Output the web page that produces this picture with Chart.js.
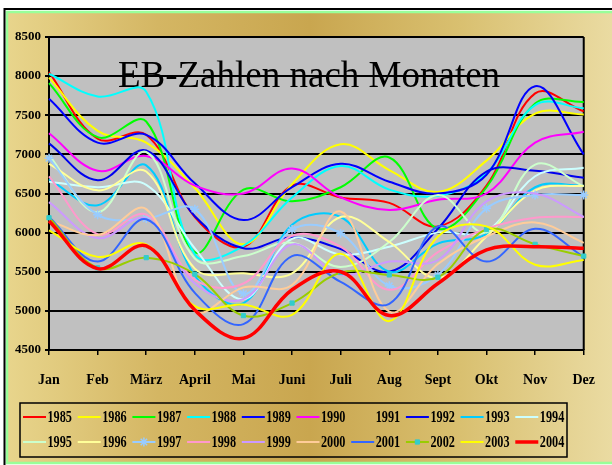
<!DOCTYPE html>
<html>
<head>
<meta charset="utf-8">
<script src="https://cdn.jsdelivr.net/npm/chart.js@4/dist/chart.umd.min.js"></script>
<style>
  html, body { margin: 0; padding: 0; background: #fff; }
</style>
</head>
<body>
<canvas id="chart" width="612" height="465"></canvas>
<script>
// Daten
const months = ["Jan", "Feb", "März", "April", "Mai", "Juni", "Juli", "Aug", "Sept", "Okt", "Nov", "Dez"];
const yTicks = [4500, 5000, 5500, 6000, 6500, 7000, 7500, 8000, 8500];

const y1985 = [8050, 7200, 7250, 6200, 5820, 6600, 6450, 6380, 6080, 6600, 7780, 7550];
const y1986 = [7980, 7300, 7150, 6570, 5850, 6620, 7130, 6800, 6520, 6920, 7520, 7510];
const y1987 = [7910, 7220, 7420, 5750, 6550, 6400, 6580, 6960, 6050, 6580, 7650, 7670];
const y1988 = [8030, 7740, 7800, 5720, 5830, 6450, 6850, 6550, 6470, 6760, 7630, 7590];
const y1989 = [7710, 7150, 7250, 6630, 6160, 6580, 6880, 6650, 6500, 6740, 7870, 7000];
const y1990 = [7270, 6790, 6980, 6600, 6500, 6820, 6450, 6290, 6420, 6500, 7150, 7290];
const y1991 = [null, null, null, null, null, null, null, null, null, null, null, null];
const y1992 = [7140, 6670, 7050, 6210, 5800, 5940, 5790, 5500, 6050, 6780, 6790, 6700];
const y1993 = [6680, 6350, 6860, 5450, 5100, 6100, 6200, 5500, 5860, 5980, 6580, 6600];
const y1994 = [6650, 6580, 6610, 5800, 5150, 5920, 5720, 5820, 6000, 6020, 6720, 6830];
const y1995 = [6990, 6260, 7030, 5670, 5700, 5870, 5560, 5880, 6480, 6000, 6870, 6590];
const y1996 = [6880, 6540, 6780, 5540, 5480, 5480, 6200, 5880, 5420, 5950, 6540, 6600];
const y1997 = [6950, 6230, 6180, 6300, 5220, 6040, 5990, 5320, 5460, 6310, 6480, 6480];
const y1998 = [6720, 5980, 6230, 5400, 5350, 5960, 5820, 5270, 5750, 6050, 6190, 6200];
const y1999 = [6390, 5930, 6180, 5350, 5150, 5850, 5460, 5630, 5650, 6400, 6500, 6200];
const y2000 = [6150, 5970, 6300, 5000, 5300, 5330, 6270, 4990, 5600, 5950, 6130, 5870];
const y2001 = [6200, 5630, 6170, 5230, 4830, 5700, 5370, 5090, 6080, 5630, 6050, 5690];
const y2002 = [6190, 5550, 5680, 5470, 4940, 5100, 5490, 5460, 5430, 6040, 5850, 5700];
const y2003 = [6030, 5690, 5850, 5060, 5080, 4950, 5730, 4870, 5950, 6080, 5590, 5650];
const y2004 = [6150, 5540, 5830, 5010, 4650, 5270, 5500, 4940, 5350, 5780, 5820, 5800];

const years = ["1985", "1986", "1987", "1988", "1989", "1990", "1991", "1992", "1993", "1994",
               "1995", "1996", "1997", "1998", "1999", "2000", "2001", "2002", "2003", "2004"];
const series = [y1985, y1986, y1987, y1988, y1989, y1990, y1991, y1992, y1993, y1994,
                y1995, y1996, y1997, y1998, y1999, y2000, y2001, y2002, y2003, y2004];
const colors = ["#ff0000", "#ffff00", "#00ff00", "#00ffff", "#0000ff", "#ff00ff", "rgba(0,0,0,0)", "#0000ee", "#00ccff", "#ccffff",
                "#ccffcc", "#ffff99", "#99ccff", "#ff99cc", "#cc99ff", "#ffcc99", "#3366ff", "#99cc00", "#ffff00", "#ff0000"];

const datasets = years.map((y, i) => {
  const d = {
    label: y,
    data: series[i],
    borderColor: colors[i],
    backgroundColor: colors[i],
    borderWidth: i === 19 ? 3.5 : 2,
    pointRadius: 0,
    tension: 0.38,
    fill: false,
    order: 20 - i
  };
  if (y === "1997") {
    d.pointStyle = "star"; d.pointRadius = 4.5; d.pointBorderWidth = 1.5;
    d.pointBorderColor = "#99ccff";
  }
  if (y === "2002") {
    d.pointStyle = "rect"; d.pointRadius = 3; d.pointBorderWidth = 1;
    d.pointBackgroundColor = "#33cccc"; d.pointBorderColor = "#33cccc";
  }
  return d;
});

// Hintergrund, Rahmen, Titel, Legende
const deko = {
  id: "deko",
  beforeDraw(chart) {
    const c = chart.ctx, a = chart.chartArea;
    c.save();
    c.fillStyle = "#fff";
    c.fillRect(0, 0, 612, 465);
    const g = c.createLinearGradient(7, 0, 612, 0);
    g.addColorStop(0, "#e8d58c");
    g.addColorStop(0.25, "#d4b663");
    g.addColorStop(0.5, "#c9a64f");
    g.addColorStop(0.75, "#d9c070");
    g.addColorStop(1, "#eadba2");
    c.fillStyle = g;
    c.fillRect(7, 12, 605, 450);
    c.strokeStyle = "#99ff99";
    c.lineWidth = 2.5;
    c.beginPath();
    c.moveTo(612, 12); c.lineTo(7, 12); c.lineTo(7, 463); c.lineTo(612, 463);
    c.stroke();
    c.strokeStyle = "#000";
    c.lineWidth = 2;
    c.beginPath();
    c.moveTo(612, 9); c.lineTo(4.5, 9); c.lineTo(4.5, 465);
    c.stroke();
    c.fillStyle = "#c0c0c0";
    c.fillRect(a.left, a.top, a.right - a.left, a.bottom - a.top);
    c.restore();
  },
  beforeDatasetsDraw(chart) {
    const c = chart.ctx, a = chart.chartArea;
    c.save();
    c.strokeStyle = "#000";
    c.lineWidth = 2;
    c.beginPath();
    c.moveTo(a.right, a.top); c.lineTo(a.right, a.bottom);
    c.stroke();
    c.fillStyle = "#000";
    c.font = '37px "Liberation Serif", "Times New Roman", serif';
    c.textAlign = "center";
    c.textBaseline = "alphabetic";
    c.fillText("EB-Zahlen nach Monaten", 309, 87);
    c.restore();
  },
  afterDraw(chart) {
    const c = chart.ctx;
    c.save();
    c.strokeStyle = "#000";
    c.lineWidth = 1.5;
    c.strokeRect(20, 403, 547, 54);
    c.font = 'bold 17px "Liberation Serif", "Times New Roman", serif';
    c.textAlign = "left";
    c.textBaseline = "middle";
    chart.data.datasets.forEach((ds, i) => {
      const col = i % 10, row = Math.floor(i / 10);
      const x0 = 23 + 54.7 * col;
      const y = row === 0 ? 417 : 442;
      c.strokeStyle = ds.borderColor;
      c.lineWidth = ds.borderWidth;
      c.beginPath();
      c.moveTo(x0, y); c.lineTo(x0 + 23, y);
      c.stroke();
      if (ds.pointStyle && Chart.helpers && Chart.helpers.drawPoint) {
        c.fillStyle = ds.pointBackgroundColor || ds.borderColor;
        c.strokeStyle = ds.pointBorderColor || ds.borderColor;
        c.lineWidth = ds.pointBorderWidth || 1;
        Chart.helpers.drawPoint(c, { pointStyle: ds.pointStyle, radius: ds.pointRadius, rotation: 0, borderWidth: ds.pointBorderWidth || 1 }, x0 + 11.5, y);
      }
      // schmale Schrift wie im Original
      c.save();
      c.translate(x0 + 24.5, y + 1);
      c.scale(0.72, 1);
      c.fillStyle = "#000";
      c.fillText(ds.label, 0, 0);
      c.restore();
    });
    c.restore();
  }
};

new Chart(document.getElementById("chart"), {
  type: "line",
  data: { labels: months, datasets: datasets },
  options: {
    responsive: false,
    animation: false,
    devicePixelRatio: 1,
    layout: { padding: { top: 37, right: 24, left: 0, bottom: 0 } },
    plugins: {
      legend: { display: false },
      title: { display: false },
      tooltip: { enabled: false }
    },
    scales: {
      x: {
        offset: false,
        afterFit(s) { s.height = 115; },
        grid: { drawOnChartArea: false, drawTicks: true, tickLength: 5, color: "#000", lineWidth: 1.5 },
        border: { color: "#000", width: 2 },
        ticks: {
          color: "#000", autoSkip: false, maxRotation: 0, padding: 17,
          font: { family: '"Liberation Serif", "Times New Roman", serif', size: 14, weight: "bold" }
        }
      },
      y: {
        min: 4500, max: 8500,
        afterFit(s) { s.width = 49; },
        afterBuildTicks(s) { s.ticks = yTicks.map(v => ({ value: v })); },
        grid: { color: "#000", lineWidth: 2, drawTicks: true, tickLength: 4, tickColor: "#000" },
        border: { color: "#000", width: 2 },
        ticks: {
          color: "#000", padding: 4,
          callback: v => String(v),
          font: { family: '"Liberation Serif", "Times New Roman", serif', size: 13, weight: "bold" }
        }
      }
    }
  },
  plugins: [deko]
});
</script>
</body>
</html>
